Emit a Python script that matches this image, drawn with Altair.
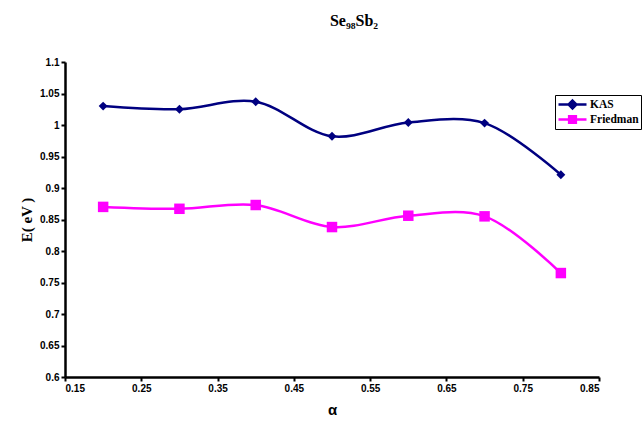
import altair as alt
import pandas as pd

alpha = [0.2, 0.3, 0.4, 0.5, 0.6, 0.7, 0.8]
kas = [1.030, 1.025, 1.037, 0.982, 1.004, 1.003, 0.921]
friedman = [0.870, 0.867, 0.873, 0.838, 0.856, 0.855, 0.765]
series_names = ["KAS", "Friedman"]
series_colors = ["#000080", "#FF00FF"]
x_ticks = [0.15, 0.25, 0.35, 0.45, 0.55, 0.65, 0.75, 0.85]
y_ticks = [0.6, 0.65, 0.7, 0.75, 0.8, 0.85, 0.9, 0.95, 1.0, 1.05, 1.1]

df = pd.DataFrame({
    "alpha": alpha * 2,
    "E": kas + friedman,
    "series": ["KAS"] * len(alpha) + ["Friedman"] * len(alpha),
})

x = alt.X("alpha:Q", scale=alt.Scale(domain=[0.15, 0.85], nice=False, zero=False),
          axis=alt.Axis(values=x_ticks, format=".2f", title="α", grid=False,
                        titleFont="Liberation Sans", titleFontSize=15, titleFontWeight="bold",
                        titlePadding=9))
y = alt.Y("E:Q", scale=alt.Scale(domain=[0.6, 1.1], nice=False, zero=False),
          axis=alt.Axis(values=y_ticks, format=".2~f", title="E( eV )", grid=False,
                        titleFont="Liberation Serif", titleFontSize=15, titleFontWeight="bold",
                        titlePadding=5))

color_nolegend = alt.Color("series:N", scale=alt.Scale(domain=series_names, range=series_colors), legend=None)

lines = alt.Chart(df).mark_line(interpolate="catmull-rom", strokeWidth=2.5).encode(
    x=x, y=y, color=color_nolegend, detail="series:N")

points = alt.Chart(df).mark_point(filled=True, opacity=1).encode(
    x=x, y=y, color=color_nolegend,
    shape=alt.Shape("series:N", scale=alt.Scale(domain=series_names, range=["diamond", "square"]), legend=None),
    size=alt.Size("series:N", scale=alt.Scale(domain=series_names, range=[80, 110]), legend=None),
)

legend_paths = [
    "M-1,0H1M0,-0.28L0.28,0L0,0.28L-0.28,0Z",
    "M-1,0H1M-0.24,-0.24H0.24V0.24H-0.24Z",
]
leg = alt.Legend(title=None, orient="none", legendX=490, legendY=33,
                 strokeColor="black", fillColor="white", padding=2,
                 symbolSize=784, symbolStrokeWidth=2.5, symbolOpacity=1,
                 clipHeight=15, rowPadding=0, labelOffset=2,
                 labelFont="Liberation Serif", labelFontSize=11.5, labelFontWeight="bold",
                 labelColor="black")
legend_layer = alt.Chart(df).mark_point(filled=True, opacity=0).encode(
    x=x, y=y,
    fill=alt.Fill("series:N", scale=alt.Scale(domain=series_names, range=series_colors), legend=leg),
    stroke=alt.Stroke("series:N", scale=alt.Scale(domain=series_names, range=series_colors), legend=leg),
    shape=alt.Shape("series:N", scale=alt.Scale(domain=series_names, range=legend_paths), legend=leg),
)

chart = alt.layer(lines, points, legend_layer).resolve_scale(
    color="independent", shape="independent", fill="independent", stroke="independent"
).properties(
    width=534, height=315,
    title=alt.TitleParams("Se₉₈Sb₂", font="Liberation Serif", fontSize=16, fontWeight="bold",
                          anchor="middle", offset=28, dx=22),
    autosize=alt.AutoSizeParams(type="none"),
    padding={"left": 65, "top": 62, "right": 44, "bottom": 44},
).configure_view(stroke=None).configure_axis(
    domainColor="black", domainWidth=2.5, tickColor="black", tickWidth=2, tickSize=4,
    labelFont="Liberation Sans", labelFontSize=10, labelFontWeight="bold", labelColor="black",
    titleColor="black",
)

chart.save("out.html", embed_options={"renderer": "svg", "actions": False})
